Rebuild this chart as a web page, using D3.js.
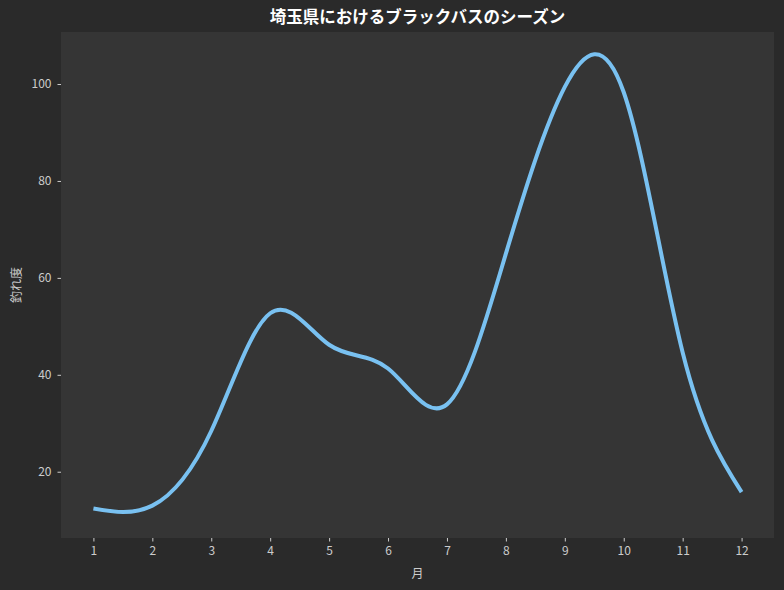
<!DOCTYPE html>
<html>
<head>
<meta charset="utf-8">
<script src="https://cdn.jsdelivr.net/npm/d3@7"></script>
<style>
  body { margin: 0; background: #2a2a2a; }
  text { font-family: "Noto Sans CJK JP", "Noto Sans", sans-serif; }
  .tick text { fill: #cccccc; font-size: 12px; }
  .tick line { stroke: #cccccc; }
  .axisText { fill: #cccccc; font-size: 12px; }
</style>
</head>
<body>
<div id="chart"></div>
<script>
var months = [1, 2, 3, 4, 5, 6, 7, 8, 9, 10, 11, 12];
var score = [12.4, 13, 28.4, 52.7, 46.2, 41.3, 33.9, 65, 99.4, 98.3, 44.6, 15.8];
var yTicks = [20, 40, 60, 80, 100];

var svgWidth = 784;
var svgHeight = 590;

var margin = { top: 32, right: 10, bottom: 52, left: 61 };
var width = svgWidth - margin.left - margin.right;
var height = svgHeight - margin.top - margin.bottom;

var svg = d3.select("#chart")
  .append("svg")
  .attr("width", svgWidth)
  .attr("height", svgHeight)
  .style("display", "block");

svg.append("rect")
  .attr("width", svgWidth)
  .attr("height", svgHeight)
  .attr("fill", "#2a2a2a");

var chartGroup = svg.append("g")
  .attr("transform", `translate(${margin.left}, ${margin.top})`);

chartGroup.append("rect")
  .attr("width", width)
  .attr("height", height)
  .attr("fill", "#353535");

// matplotlib-style 5% margins
var xPad = (d3.max(months) - d3.min(months)) * 0.05;
var xScale = d3.scaleLinear()
  .domain([d3.min(months) - xPad, d3.max(months) + xPad])
  .range([0, width]);

// y limits follow the smoothed curve's range (min ~11.1, max ~106)
var yMin = 11.07, yMax = 105.99;
var yPad = (yMax - yMin) * 0.05;
var yScale = d3.scaleLinear()
  .domain([yMin - yPad, yMax + yPad])
  .range([height, 0]);

var bottomAxis = d3.axisBottom(xScale).tickValues(months).tickSize(3.5).tickPadding(5);
var leftAxis = d3.axisLeft(yScale).tickValues(yTicks).tickSize(3.5).tickPadding(6);

var line = d3.line()
  .x((d, i) => xScale(months[i]))
  .y(d => yScale(d))
  .curve(d3.curveNatural);

chartGroup.append("path")
  .datum(score)
  .attr("d", line)
  .attr("fill", "none")
  .attr("stroke", "#79c1f1")
  .attr("stroke-width", 4);

var xAxisG = chartGroup.append("g")
  .attr("transform", `translate(0, ${height})`)
  .call(bottomAxis);
var yAxisG = chartGroup.append("g")
  .call(leftAxis);
[xAxisG, yAxisG].forEach(g => {
  g.select(".domain").remove();
  g.selectAll(".tick line").attr("stroke", "#cccccc");
  g.selectAll(".tick text").attr("fill", "#cccccc");
});

svg.append("text")
  .attr("x", margin.left + width / 2)
  .attr("y", 23)
  .attr("text-anchor", "middle")
  .attr("fill", "#ffffff")
  .style("font-size", "16.5px")
  .style("font-weight", "bold")
  .text("埼玉県におけるブラックバスのシーズン");

svg.append("text")
  .attr("class", "axisText")
  .attr("x", margin.left + width / 2)
  .attr("y", 578)
  .attr("text-anchor", "middle")
  .text("月");

svg.append("text")
  .attr("class", "axisText")
  .attr("transform", `translate(21, ${margin.top + height / 2}) rotate(-90)`)
  .attr("text-anchor", "middle")
  .text("釣れ度");
</script>
</body>
</html>
